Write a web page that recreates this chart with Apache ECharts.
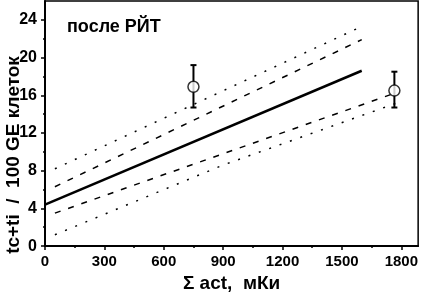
<!DOCTYPE html>
<html>
<head>
<meta charset="utf-8">
<script src="https://cdn.jsdelivr.net/npm/echarts@6/dist/echarts.min.js"></script>
<style>html,body{margin:0;padding:0;background:#fff;}#c{width:421px;height:298px;}</style>
</head>
<body>
<div id="c"></div>
<script>
const fitX = [0, 1600];
const fitY = [4.4, 18.6];
const confUpperX = [50, 1600];
const confUpperY = [6.3, 21.9];
const confLowerX = [50, 1750];
const confLowerY = [3.5, 16.1];
const predUpperX = [50, 1600];
const predUpperY = [8.2, 23.3];
const predLowerX = [50, 900, 1780];
const predLowerY = [1.2, 8.6, 15.2];
const pointsX = [750, 1765];
const pointsY = [16.9, 16.5];
const errLow = [14.7, 14.7];
const errHigh = [19.2, 18.5];
const xTicks = [0, 300, 600, 900, 1200, 1500, 1800];
const xMinorTicks = [150, 450, 750, 1050, 1350, 1650];
const yTicks = [0, 4, 8, 12, 16, 20, 24];
const yMinorTicks = [2, 6, 10, 14, 18, 22];

const zip = (xs, ys) => xs.map((x, i) => [x, ys[i]]);
const FONT = 'Liberation Sans, Arial, sans-serif';
const X_MIN = 0, X_MAX = 1885, Y_MIN = 0, Y_MAX = 26;

const chart = echarts.init(document.getElementById('c'));
chart.setOption({
  animation: false,
  backgroundColor: '#fff',
  grid: { left: 45, right: 2, top: 1, bottom: 41, show: true, borderColor: '#000', borderWidth: 1.5 },
  xAxis: [{
    type: 'value', min: X_MIN, max: X_MAX, interval: 300, position: 'bottom',
    name: 'Σ act,  мКи', nameLocation: 'middle', nameGap: 18,
    nameTextStyle: { fontFamily: FONT, fontWeight: 'bold', fontSize: 19, color: '#000' },
    axisLine: { lineStyle: { color: '#000', width: 2 } },
    axisTick: { inside: false, length: 4, lineStyle: { color: '#000', width: 1.5 }, customValues: xTicks },
    axisLabel: { margin: 8, fontFamily: FONT, fontWeight: 'bold', fontSize: 15, color: '#000',
      customValues: xTicks, formatter: v => String(v) },
    splitLine: { show: false }
  }, {
    type: 'value', min: X_MIN, max: X_MAX, position: 'bottom', offset: 0,
    axisLine: { show: false },
    axisTick: { inside: false, length: 2, lineStyle: { color: '#000', width: 1.5 }, customValues: xMinorTicks },
    axisLabel: { show: false },
    splitLine: { show: false }
  }],
  yAxis: [{
    type: 'value', min: Y_MIN, max: Y_MAX, interval: 4, position: 'left',
    axisLine: { lineStyle: { color: '#000', width: 2 } },
    axisTick: { inside: false, length: 4, lineStyle: { color: '#000', width: 1.5 }, customValues: yTicks },
    axisLabel: { margin: 8, fontFamily: FONT, fontWeight: 'bold', fontSize: 16, color: '#000',
      customValues: yTicks, formatter: v => String(v) },
    splitLine: { show: false }
  }, {
    type: 'value', min: Y_MIN, max: Y_MAX, position: 'left', offset: 0,
    axisLine: { show: false },
    axisTick: { inside: false, length: 2, lineStyle: { color: '#000', width: 1.5 }, customValues: yMinorTicks },
    axisLabel: { show: false },
    splitLine: { show: false }
  }],
  graphic: [
    { type: 'text', left: 67, top: 18, style: { text: 'после РЙТ', font: 'bold 18px ' + FONT, fill: '#000' } },
    { type: 'text', x: 14, y: 155, rotation: Math.PI / 2,
      style: { text: 'tc+ti  /  100 GE клеток', font: 'bold 19px ' + FONT, fill: '#000', align: 'center', verticalAlign: 'middle' } }
  ],
  series: [
    { type: 'line', data: zip(fitX, fitY), symbol: 'none', lineStyle: { color: '#000', width: 2.5 } },
    { type: 'line', data: zip(confUpperX, confUpperY), symbol: 'none', lineStyle: { color: '#000', width: 1.5, type: [6, 8] } },
    { type: 'line', data: zip(confLowerX, confLowerY), symbol: 'none', lineStyle: { color: '#000', width: 1.5, type: [6, 8] } },
    { type: 'line', data: zip(predUpperX, predUpperY), symbol: 'none', lineStyle: { color: '#000', width: 1.5, type: [2, 9] } },
    { type: 'line', data: zip(predLowerX, predLowerY), symbol: 'none', lineStyle: { color: '#000', width: 1.5, type: [2, 9] } },
    {
      type: 'custom',
      data: pointsX.map((x, i) => [x, pointsY[i], errLow[i], errHigh[i]]),
      renderItem: function (params, api) {
        const x = api.value(0);
        const hi = api.coord([x, api.value(3)]);
        const lo = api.coord([x, api.value(2)]);
        const st = { stroke: '#000', lineWidth: 2 };
        return {
          type: 'group',
          children: [
            { type: 'line', shape: { x1: hi[0], y1: hi[1], x2: lo[0], y2: lo[1] }, style: st },
            { type: 'line', shape: { x1: hi[0] - 3, y1: hi[1], x2: hi[0] + 3, y2: hi[1] }, style: st },
            { type: 'line', shape: { x1: lo[0] - 3, y1: lo[1], x2: lo[0] + 3, y2: lo[1] }, style: st }
          ]
        };
      },
      z: 3
    },
    {
      type: 'scatter', data: zip(pointsX, pointsY), symbol: 'circle', symbolSize: 11,
      itemStyle: { color: '#fff', borderColor: '#000', borderWidth: 1.5 }, z: 4
    }
  ]
});
</script>
</body>
</html>
